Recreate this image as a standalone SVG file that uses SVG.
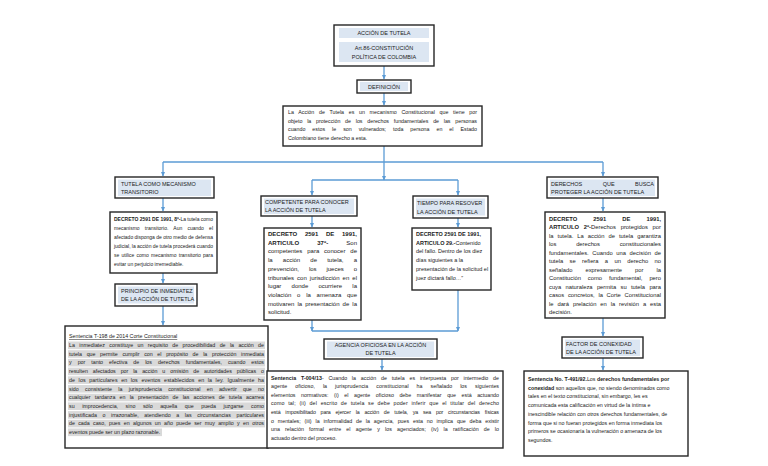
<svg xmlns="http://www.w3.org/2000/svg" width="768" height="466" viewBox="0 0 768 466">
<style>
.box{fill:#fff;stroke:#262626;stroke-width:1.4}
.band{fill:#dce6f2}
.hl{fill:#d9d9d9}
text{font-family:"Liberation Sans",Arial,sans-serif;font-size:5.3px;fill:#222}
.h{font-size:5.5px}
.b{font-weight:bold}
.c{text-anchor:middle}
.d8 text{font-size:5px}
.d37 text{font-size:6px}
.d29 text{font-size:5.5px}
.d2 text{font-size:5.8px}
.conn{stroke:#5b9bd5;stroke-width:1.3;fill:none}
</style>
<defs>
<marker id="ar" markerWidth="5" markerHeight="5" refX="4.5" refY="2.5" orient="auto" markerUnits="userSpaceOnUse">
<path d="M0,0.3 L5,2.5 L0,4.7 Z" fill="#5b9bd5"/>
</marker>
</defs>
<rect width="768" height="466" fill="#fff"/>

<g id="connectors">
<path class="conn" d="M384,66 V79" marker-end="url(#ar)"/>
<path class="conn" d="M384,93 V105" marker-end="url(#ar)"/>
<path class="conn" d="M384,146 V180" marker-end="url(#ar)"/>
<path class="conn" d="M163,162 H603"/>
<path class="conn" d="M163,162 V176" marker-end="url(#ar)"/>
<path class="conn" d="M603,162 V176" marker-end="url(#ar)"/>
<path class="conn" d="M312,180 H458"/>
<path class="conn" d="M312,180 V195" marker-end="url(#ar)"/>
<path class="conn" d="M458,180 V195" marker-end="url(#ar)"/>
<path class="conn" d="M163,198 V211" marker-end="url(#ar)"/>
<path class="conn" d="M163,273 V283" marker-end="url(#ar)"/>
<path class="conn" d="M163,306 V325" marker-end="url(#ar)"/>
<path class="conn" d="M312,216 V227" marker-end="url(#ar)"/>
<path class="conn" d="M458,218 V227" marker-end="url(#ar)"/>
<path class="conn" d="M312,320 V331" marker-end="url(#ar)"/>
<path class="conn" d="M458,290 V331" marker-end="url(#ar)"/>
<path class="conn" d="M312,331 H458"/>
<path class="conn" d="M382,359 V370" marker-end="url(#ar)"/>
<path class="conn" d="M603,198 V211" marker-end="url(#ar)"/>
<path class="conn" d="M603,318 V336" marker-end="url(#ar)"/>
<path class="conn" d="M603,358 V370" marker-end="url(#ar)"/>
</g>

<g id="accion">
<rect class="box" x="334" y="25" width="100" height="41"/>
<rect class="band" x="339" y="28" width="90" height="10"/>
<rect class="band" x="339" y="42" width="90" height="20"/>
<text class="h c" x="384" y="35">ACCIÓN DE TUTELA</text>
<text class="h c" x="384" y="49.5">Art.86-CONSTITUCIÓN</text>
<text class="h c" x="384" y="58.5">POLÍTICA DE COLOMBIA</text>
</g>

<g id="definicion">
<rect class="box" x="357" y="80" width="54" height="13"/>
<rect class="band" x="360" y="82" width="48" height="9"/>
<text class="h c" x="384" y="88.8">DEFINICIÓN</text>
</g>

<g id="definicion-texto">
<rect class="box" x="283" y="106" width="199" height="40"/>
<text x="288" y="114" word-spacing="3.2" textLength="189" lengthAdjust="spacing">La Acción de Tutela es un mecanismo Constitucional que tiene por</text>
<text x="288" y="122.5" word-spacing="3.3" textLength="189" lengthAdjust="spacing">objeto la protección de los derechos fundamentales de las personas</text>
<text x="288" y="131" word-spacing="5.5" textLength="189" lengthAdjust="spacing">cuando estos le son vulnerados; toda persona en el Estado</text>
<text x="288" y="139.5">Colombiano tiene derecho a esta.</text>
</g>

<g id="tutela-transitorio">
<rect class="box" x="115" y="177" width="99" height="21"/>
<rect class="band" x="118" y="179.5" width="93" height="16.5"/>
<text class="h" x="121" y="185.5">TUTELA COMO MECANISMO</text>
<text class="h" x="121" y="194">TRANSITORIO</text>
</g>

<g id="decreto-8" class="d8">
<rect class="box" x="110" y="212" width="107" height="61"/>
<text x="114" y="220.5" textLength="99" lengthAdjust="spacing"><tspan class="b">DECRETO 2591 DE 1991, 8º-</tspan>La tutela como</text>
<text x="114" y="229.5" word-spacing="3.8" textLength="99" lengthAdjust="spacing">mecanismo transitorio. Aun cuando el</text>
<text x="114" y="238.5" textLength="99" lengthAdjust="spacing">afectado disponga de otro medio de defensa</text>
<text x="114" y="247.5" textLength="99" lengthAdjust="spacing">judicial, la acción de tutela procederá cuando</text>
<text x="114" y="256.5" word-spacing="0.8" textLength="99" lengthAdjust="spacing">se utilice como mecanismo transitorio para</text>
<text x="114" y="265.5">evitar un perjuicio irremediable.</text>
</g>

<g id="principio">
<rect class="box" x="115" y="284" width="82" height="22"/>
<rect class="band" x="118" y="286.5" width="76" height="17"/>
<text class="h" x="121" y="292.5">PRINCIPIO DE INMEDIATEZ</text>
<text class="h" x="121" y="301">DE LA ACCIÓN DE TUTETLA</text>
</g>

<g id="sentencia-t198">
<rect class="box" x="65" y="326" width="203" height="122"/>
<text x="69" y="338" text-decoration="underline">Sentencia T-198 de 2014 Corte Constitucional</text>
<rect class="hl" x="68" y="341.5" width="197" height="7.6"/>
<rect class="hl" x="68" y="350.2" width="197" height="7.6"/>
<rect class="hl" x="68" y="358.9" width="197" height="7.6"/>
<rect class="hl" x="68" y="367.6" width="197" height="7.6"/>
<rect class="hl" x="68" y="376.3" width="197" height="7.6"/>
<rect class="hl" x="68" y="385" width="197" height="7.6"/>
<rect class="hl" x="68" y="393.7" width="197" height="7.6"/>
<rect class="hl" x="68" y="402.4" width="197" height="7.6"/>
<rect class="hl" x="68" y="411.1" width="197" height="7.6"/>
<rect class="hl" x="68" y="419.8" width="197" height="7.6"/>
<rect class="hl" x="68" y="428.5" width="94" height="7.6"/>
<text x="69" y="347" word-spacing="2.9" textLength="195" lengthAdjust="spacing">La inmediatez constituye un requisito de procedibilidad de la acción de</text>
<text x="69" y="355.7" word-spacing="3.2" textLength="195" lengthAdjust="spacing">tutela que permite cumplir con el propósito de la protección inmediata</text>
<text x="69" y="364.4" word-spacing="4.5" textLength="195" lengthAdjust="spacing">y por tanto efectiva de los derechos fundamentales, cuando estos</text>
<text x="69" y="373.1" word-spacing="3.4" textLength="195" lengthAdjust="spacing">resulten afectados por la acción u omisión de autoridades públicas o</text>
<text x="69" y="381.8" word-spacing="2" textLength="195" lengthAdjust="spacing">de los particulares en los eventos establecidos en la ley. Igualmente ha</text>
<text x="69" y="390.5" word-spacing="4.8" textLength="195" lengthAdjust="spacing">sido consistente la jurisprudencia constitucional en advertir que no</text>
<text x="69" y="399.2" word-spacing="2.7" textLength="195" lengthAdjust="spacing">cualquier tardanza en la presentación de las acciones de tutela acarrea</text>
<text x="69" y="407.9" word-spacing="6.1" textLength="195" lengthAdjust="spacing">su improcedencia, sino sólo aquella que pueda juzgarse como</text>
<text x="69" y="416.6" word-spacing="4.1" textLength="195" lengthAdjust="spacing">injustificada o irrazonable, atendiendo a las circunstancias particulares</text>
<text x="69" y="425.3" word-spacing="1.8" textLength="195" lengthAdjust="spacing">de cada caso, pues en algunos un año puede ser muy amplio y en otros</text>
<text x="69" y="434">eventos puede ser un plazo razonable.</text>
</g>

<g id="competente">
<rect class="box" x="261" y="196" width="96" height="20"/>
<rect class="band" x="264" y="198.5" width="90" height="15.5"/>
<text class="h" x="265" y="204">COMPETENTE PARA CONOCER</text>
<text class="h" x="265" y="212.3">LA ACCIÓN DE TUTELA</text>
</g>

<g id="decreto-37" class="d37">
<rect class="box" x="264" y="228" width="97" height="92"/>
<text x="268" y="236" word-spacing="6" textLength="89" lengthAdjust="spacing" class="b">DECRETO 2591 DE 1991,</text>
<text x="268" y="244.7" word-spacing="16.5" textLength="89" lengthAdjust="spacing"><tspan class="b">ARTICULO 37º-</tspan> Son</text>
<text x="268" y="253.4" word-spacing="3.2" textLength="89" lengthAdjust="spacing">competentes para conocer de</text>
<text x="268" y="262.1" word-spacing="8.5" textLength="89" lengthAdjust="spacing">la acción de tutela, a</text>
<text x="268" y="270.8" word-spacing="8.2" textLength="89" lengthAdjust="spacing">prevención, los jueces o</text>
<text x="268" y="279.5" word-spacing="1.4" textLength="89" lengthAdjust="spacing">tribunales con jurisdicción en el</text>
<text x="268" y="288.2" word-spacing="8.5" textLength="89" lengthAdjust="spacing">lugar donde ocurriere la</text>
<text x="268" y="296.9" word-spacing="4.1" textLength="89" lengthAdjust="spacing">violación o la amenaza que</text>
<text x="268" y="305.6" word-spacing="1.4" textLength="89" lengthAdjust="spacing">motivaren la presentación de la</text>
<text x="268" y="314.3">solicitud.</text>
</g>

<g id="tiempo">
<rect class="box" x="413" y="196" width="75" height="22"/>
<rect class="band" x="416" y="198.5" width="69" height="17"/>
<text class="h" x="417" y="205">TIEMPO PARA RESOVER</text>
<text class="h" x="417" y="213.5">LA ACCIÓN DE TUTELA</text>
</g>

<g id="decreto-29" class="d29">
<rect class="box" x="412" y="228" width="79" height="62"/>
<text x="416" y="236" class="b">DECRETO 2591 DE 1991,</text>
<text x="416" y="244.7"><tspan class="b">ARTICULO 29.-</tspan>Contenido</text>
<text x="416" y="253.4">del fallo. Dentro de los diez</text>
<text x="416" y="262.1">días siguientes a la</text>
<text x="416" y="270.8">presentación de la solicitud el</text>
<text x="416" y="279.5">juez dictará fallo…”</text>
</g>

<g id="agencia">
<rect class="box" x="324" y="339" width="113" height="20"/>
<rect class="band" x="327" y="341.5" width="107" height="15.5"/>
<text class="h c" x="380.5" y="347">AGENCIA OFICIOSA EN LA ACCIÓN</text>
<text class="h c" x="380.5" y="355.3">DE TUTELA</text>
</g>

<g id="sentencia-t004">
<rect class="box" x="267" y="371" width="236" height="77"/>
<text x="271" y="379.5" word-spacing="3.3" textLength="228" lengthAdjust="spacing"><tspan class="b">Sentencia T-004/13</tspan>- Cuando la acción de tutela es interpuesta por intermedio de</text>
<text x="271" y="388.1" word-spacing="6.5" textLength="228" lengthAdjust="spacing">agente oficioso, la jurisprudencia constitucional ha señalado los siguientes</text>
<text x="271" y="396.7" word-spacing="4.1" textLength="228" lengthAdjust="spacing">elementos normativos: (i) el agente oficioso debe manifestar que está actuando</text>
<text x="271" y="405.3" word-spacing="2" textLength="228" lengthAdjust="spacing">como tal; (ii) del escrito de tutela se debe poder inferir que el titular del derecho</text>
<text x="271" y="413.9" word-spacing="3.5" textLength="228" lengthAdjust="spacing">está imposibilitado para ejercer la acción de tutela, ya sea por circunstancias físicas</text>
<text x="271" y="422.5" word-spacing="2.4" textLength="228" lengthAdjust="spacing">o mentales; (iii) la informalidad de la agencia, pues esta no implica que deba existir</text>
<text x="271" y="431.1" word-spacing="3.6" textLength="228" lengthAdjust="spacing">una relación formal entre el agente y los agenciados; (iv) la ratificación de lo</text>
<text x="271" y="439.7">actuado dentro del proceso.</text>
</g>

<g id="derechos">
<rect class="box" x="547" y="177" width="111" height="21"/>
<rect class="band" x="550" y="179.5" width="105" height="16.5"/>
<text class="h" x="551" y="185.5" word-spacing="19" textLength="103" lengthAdjust="spacing">DERECHOS QUE BUSCA</text>
<text class="h" x="551" y="194">PROTEGER LA ACCIÓN DE TUTELA</text>
</g>

<g id="decreto-2" class="d2">
<rect class="box" x="545" y="212" width="120" height="106"/>
<text x="549" y="220.5" word-spacing="14.4" textLength="112" lengthAdjust="spacing" class="b">DECRETO 2591 DE 1991,</text>
<text x="549" y="229" word-spacing="3.2" textLength="112" lengthAdjust="spacing"><tspan class="b">ARTICULO 2º-</tspan>Derechos protegidos por</text>
<text x="549" y="237.5" word-spacing="2.4" textLength="112" lengthAdjust="spacing">la tutela. La acción de tutela garantiza</text>
<text x="549" y="246" word-spacing="18.1" textLength="112" lengthAdjust="spacing">los derechos constitucionales</text>
<text x="549" y="254.5" word-spacing="2" textLength="112" lengthAdjust="spacing">fundamentales. Cuando una decisión de</text>
<text x="549" y="263" word-spacing="4.7" textLength="112" lengthAdjust="spacing">tutela se refiera a un derecho no</text>
<text x="549" y="271.5" word-spacing="11.5" textLength="112" lengthAdjust="spacing">señalado expresamente por la</text>
<text x="549" y="280" word-spacing="5.3" textLength="112" lengthAdjust="spacing">Constitución como fundamental, pero</text>
<text x="549" y="288.5" word-spacing="2.7" textLength="112" lengthAdjust="spacing">cuya naturaleza permita su tutela para</text>
<text x="549" y="297" word-spacing="2.1" textLength="112" lengthAdjust="spacing">casos concretos, la Corte Constitucional</text>
<text x="549" y="305.5" word-spacing="2.3" textLength="112" lengthAdjust="spacing">le dará prelación en la revisión a esta</text>
<text x="549" y="314">decisión.</text>
</g>

<g id="factor">
<rect class="box" x="562" y="337" width="81" height="21"/>
<rect class="band" x="565" y="339.5" width="75" height="16.5"/>
<text class="h" x="566" y="345.5">FACTOR DE CONEXIDAD</text>
<text class="h" x="566" y="354">DE LA ACCIÓN DE TUTELA</text>
</g>

<g id="sentencia-t491">
<rect class="box" x="524" y="371" width="164" height="85"/>
<text x="528" y="381"><tspan class="b">Sentencia No. T-491/92.</tspan>Los <tspan class="b">derechos fundamentales por</tspan></text>
<text x="528" y="389.7"><tspan class="b">conexidad</tspan> son aquellos que, no siendo denominados como</text>
<text x="528" y="398.4">tales en el texto constitucional, sin embargo, les es</text>
<text x="528" y="407.1">comunicada esta calificación en virtud de la íntima e</text>
<text x="528" y="415.8">inescindible relación con otros derechos fundamentales, de</text>
<text x="528" y="424.5">forma que si no fueran protegidos en forma inmediata los</text>
<text x="528" y="433.2">primeros se ocasionaría la vulneración o amenaza de los</text>
<text x="528" y="441.9">segundos.</text>
</g>
</svg>
